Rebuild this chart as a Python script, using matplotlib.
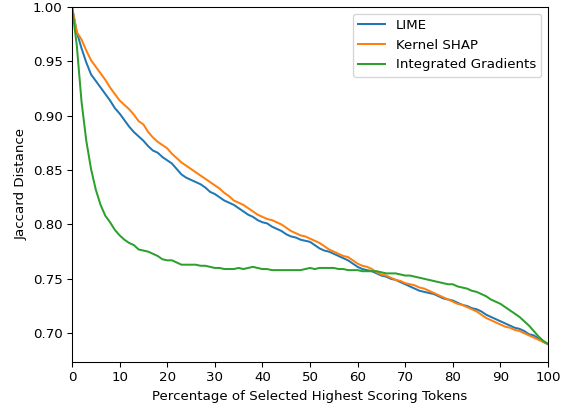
import matplotlib
matplotlib.use("Agg")
import matplotlib.pyplot as plt
import numpy as np

# percentage of selected tokens, 0..100
pct = np.arange(0, 101)

lime = [1.000, 0.977, 0.962, 0.949, 0.938, 0.932, 0.926, 0.920, 0.914, 0.907,
        0.902, 0.896, 0.890, 0.885, 0.881, 0.877, 0.872, 0.868, 0.866, 0.862,
        0.859, 0.856, 0.851, 0.846, 0.843, 0.841, 0.839, 0.837, 0.834, 0.830,
        0.828, 0.825, 0.822, 0.820, 0.818, 0.815, 0.812, 0.809, 0.807, 0.804,
        0.802, 0.801, 0.798, 0.796, 0.794, 0.791, 0.789, 0.788, 0.786, 0.785,
        0.784, 0.781, 0.778, 0.776, 0.775, 0.773, 0.771, 0.769, 0.767, 0.764,
        0.761, 0.759, 0.758, 0.757, 0.755, 0.753, 0.752, 0.750, 0.749, 0.747,
        0.745, 0.743, 0.741, 0.739, 0.738, 0.737, 0.736, 0.734, 0.732, 0.731,
        0.730, 0.728, 0.726, 0.725, 0.723, 0.722, 0.720, 0.717, 0.715, 0.713,
        0.711, 0.709, 0.707, 0.705, 0.704, 0.702, 0.699, 0.698, 0.695, 0.692,
        0.690]

kernel_shap = [1.000, 0.977, 0.970, 0.960, 0.951, 0.945, 0.939, 0.933, 0.926, 0.920,
               0.914, 0.910, 0.906, 0.901, 0.895, 0.892, 0.885, 0.880, 0.876, 0.873,
               0.870, 0.865, 0.861, 0.857, 0.854, 0.851, 0.848, 0.845, 0.842, 0.839,
               0.836, 0.833, 0.829, 0.826, 0.822, 0.820, 0.818, 0.815, 0.812, 0.809,
               0.807, 0.805, 0.804, 0.802, 0.800, 0.797, 0.794, 0.792, 0.790, 0.789,
               0.787, 0.785, 0.783, 0.780, 0.777, 0.775, 0.773, 0.771, 0.770, 0.767,
               0.764, 0.762, 0.761, 0.759, 0.756, 0.754, 0.753, 0.751, 0.749, 0.748,
               0.746, 0.745, 0.744, 0.742, 0.741, 0.739, 0.737, 0.735, 0.733, 0.731,
               0.729, 0.727, 0.726, 0.724, 0.722, 0.720, 0.717, 0.714, 0.712, 0.710,
               0.708, 0.706, 0.705, 0.703, 0.702, 0.700, 0.698, 0.696, 0.694, 0.692,
               0.690]

integrated_gradients = [1.000, 0.965, 0.913, 0.877, 0.851, 0.832, 0.818, 0.808, 0.802, 0.795,
                        0.790, 0.786, 0.783, 0.781, 0.777, 0.776, 0.775, 0.773, 0.771, 0.768,
                        0.767, 0.767, 0.765, 0.763, 0.763, 0.763, 0.763, 0.762, 0.762, 0.761,
                        0.760, 0.760, 0.759, 0.759, 0.759, 0.760, 0.759, 0.760, 0.761, 0.760,
                        0.759, 0.759, 0.758, 0.758, 0.758, 0.758, 0.758, 0.758, 0.758, 0.759,
                        0.760, 0.759, 0.760, 0.760, 0.760, 0.760, 0.759, 0.759, 0.758, 0.758,
                        0.758, 0.757, 0.757, 0.757, 0.757, 0.756, 0.755, 0.755, 0.755, 0.754,
                        0.753, 0.753, 0.752, 0.751, 0.750, 0.749, 0.748, 0.747, 0.746, 0.745,
                        0.745, 0.743, 0.742, 0.741, 0.739, 0.738, 0.736, 0.734, 0.731, 0.729,
                        0.727, 0.724, 0.721, 0.718, 0.715, 0.711, 0.707, 0.702, 0.697, 0.693,
                        0.690]

x_ticks = list(range(0, 101, 10))

fig = plt.figure(figsize=(569 / 96, 406 / 96), dpi=96)
ax = fig.add_axes([72 / 569, 44 / 406, 476 / 569, 355 / 406])

ax.plot(pct, lime, label="LIME")
ax.plot(pct, kernel_shap, label="Kernel SHAP")
ax.plot(pct, integrated_gradients, label="Integrated Gradients")

ax.set_xlim(0, 100)
ax.set_ylim(0.6735, 1.0)
ax.set_xticks(x_ticks)
ax.set_xlabel("Percentage of Selected Highest Scoring Tokens")
ax.set_ylabel("Jaccard Distance")
ax.legend(loc="upper right")

fig.savefig("out.png", dpi=96)
